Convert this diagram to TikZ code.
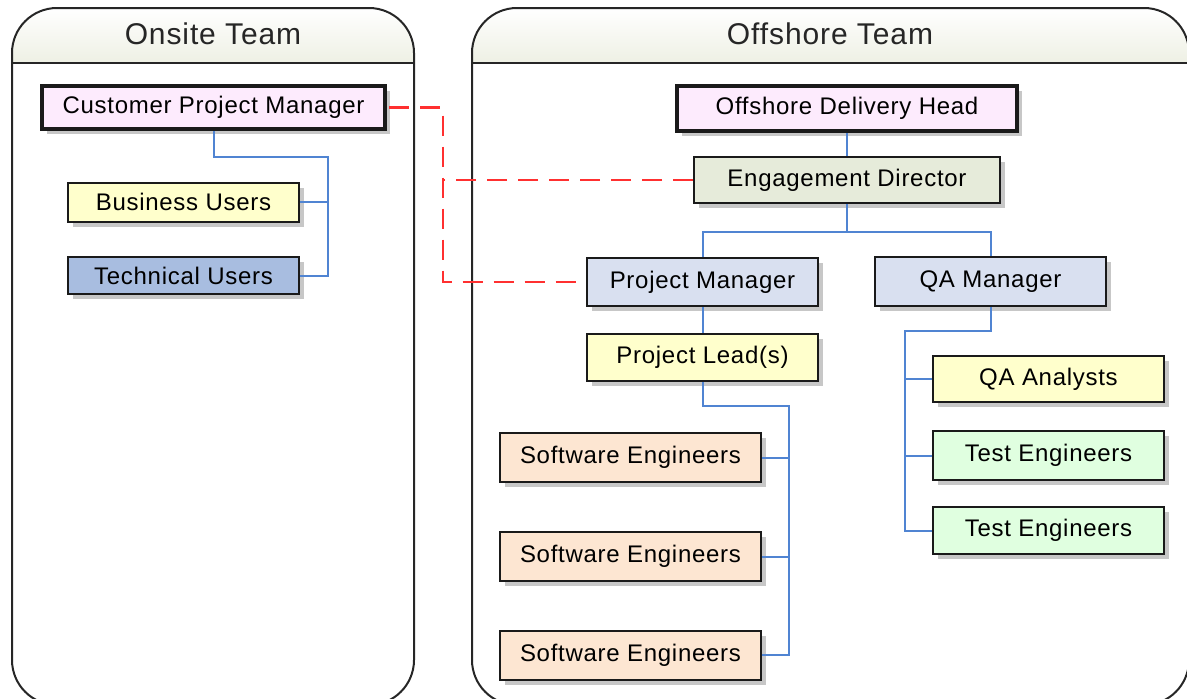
\documentclass[tikz,border=0pt]{standalone}
\usepackage{fontspec}
\setmainfont{Liberation Sans}
\newfontfamily\spacedfont[LetterSpace=3]{Liberation Sans}
\usetikzlibrary{shadows}

\definecolor{boxline}{HTML}{1A1A1A}
\definecolor{laneline}{HTML}{262626}
\definecolor{headfill}{HTML}{EEF0E4}
\definecolor{pinkfill}{HTML}{FDEBFD}
\definecolor{yellowfill}{HTML}{FFFFCC}
\definecolor{techfill}{HTML}{A8BDE0}
\definecolor{olivefill}{HTML}{E6EBDA}
\definecolor{bluefill}{HTML}{D9E0F0}
\definecolor{peachfill}{HTML}{FDE6D2}
\definecolor{greenfill}{HTML}{E0FFE0}
\definecolor{linkblue}{HTML}{5084D2}
\definecolor{dashred}{HTML}{FF3030}

\tikzset{
  box/.style={draw=boxline, line width=2pt, minimum width=231pt, minimum height=47pt,
    inner sep=0pt, text=black, font=\spacedfont\fontsize{24}{28}\selectfont,
    drop shadow={shadow xshift=5pt, shadow yshift=-5pt, fill=black, opacity=.22}},
  headbox/.style={box, line width=4pt},
  lane/.style={draw=laneline, line width=2pt},
  lanehead/.style={top color=white, bottom color=headfill},
  lanetitle/.style={text=black!85, font=\spacedfont\fontsize{30}{34}\selectfont},
  link/.style={draw=linkblue, line width=2pt},
  dashlink/.style={draw=dashred, line width=2.5pt, dash pattern=on 20pt off 11pt},
}

\begin{document}
\begin{tikzpicture}[x=1pt,y=-1pt]
\useasboundingbox (0,0) rectangle (1187,699);

% lanes
\fill[lanehead] (12,63) [rounded corners=45] -- (12,8) -- (414,8) [sharp corners] -- (414,63) -- cycle;
\fill[lanehead] (472,63) [rounded corners=45] -- (472,8) -- (1189,8) [sharp corners] -- (1189,63) -- cycle;
\draw[lane, rounded corners=45] (12,705) -- (12,8) -- (414,8) -- (414,705) -- cycle;
\draw[lane, rounded corners=45] (472,705) -- (472,8) -- (1189,8) -- (1189,705) -- cycle;
\draw[lane] (12,63) -- (414,63);
\draw[lane] (472,63) -- (1189,63);

\node[lanetitle] (onsite) at (213,34) {Onsite Team};
\node[lanetitle] (offshore) at (830,34) {Offshore Team};

% onsite team
\node[headbox, fill=pinkfill, minimum width=343pt, minimum height=43pt] (cpm) at (213.5,107.5) {Customer Project Manager};
\node[box, fill=yellowfill, minimum height=39pt] (bus) at (183.5,202) {Business Users};
\node[box, fill=techfill, minimum height=37pt] (tech) at (183.5,275.5) {Technical Users};

% offshore team
\node[headbox, fill=pinkfill, minimum width=340pt, minimum height=45pt] (odh) at (847,108.5) {Offshore Delivery Head};
\node[box, fill=olivefill, minimum width=306pt, minimum height=46pt] (ed) at (847,180) {Engagement Director};
\node[box, fill=bluefill, minimum height=48pt] (pm) at (702.5,282) {Project Manager};
\node[box, fill=bluefill, minimum height=49pt] (qa) at (990.5,281.5) {QA Manager};
\node[box, fill=yellowfill] (pl) at (702.5,357.5) {Project Lead(s)};

\node[box, fill=peachfill, minimum width=261pt, minimum height=49pt] (se1) at (630.5,457.5) {Software Engineers};
\node[box, fill=peachfill, minimum width=261pt, minimum height=49pt] (se2) at (630.5,556.5) {Software Engineers};
\node[box, fill=peachfill, minimum width=261pt, minimum height=49pt] (se3) at (630.5,655) {Software Engineers};

\node[box, fill=yellowfill, minimum height=46pt] (qaa) at (1048.5,379) {QA Analysts};
\node[box, fill=greenfill, minimum height=49pt] (te1) at (1048.5,455.5) {Test Engineers};
\node[box, fill=greenfill] (te2) at (1048.5,530.5) {Test Engineers};

% reporting lines
\coordinate (ubus) at (328,157);
\coordinate (edbus) at (847,232);
\coordinate (sebus) at (789,406);
\coordinate (qabus) at (905,331);
\coordinate (rbus) at (443,107.5);

\draw[link] (cpm.south) |- (ubus) |- (tech.east);
\draw[link] (bus.east) -- (bus.east -| ubus);

\draw[link] (odh.south) -- (ed.north);
\draw[link] (ed.south) -- (edbus);
\draw[link] (pm.north) |- (edbus) -| (qa.north);
\draw[link] (pm.south) -- (pl.north);

\draw[link] (pl.south) |- (sebus) |- (se3.east);
\draw[link] (se1.east) -- (se1.east -| sebus);
\draw[link] (se2.east) -- (se2.east -| sebus);

\draw[link] (qa.south) |- (qabus) |- (te2.west);
\draw[link] (qaa.west) -- (qaa.west -| qabus);
\draw[link] (te1.west) -- (te1.west -| qabus);

% onsite / offshore contact
\draw[dashlink, shorten <=2pt] (cpm.east) -- (rbus) |- (pm.west);
\draw[dashlink] (ed.west) -- (ed.west -| rbus);
\end{tikzpicture}
\end{document}
